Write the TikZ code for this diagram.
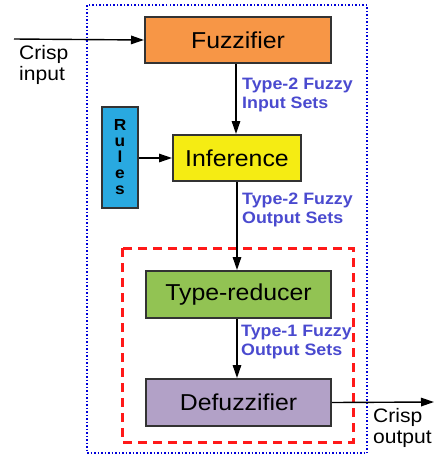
\documentclass[tikz,border=0pt]{standalone}
\usepackage{fontspec}
\setmainfont{Liberation Sans}[FakeStretch=1.08]
\usetikzlibrary{arrows.meta}
\definecolor{fzorange}{HTML}{F79646}
\definecolor{fzyellow}{HTML}{F5EC13}
\definecolor{fzblue}{HTML}{29A9E0}
\definecolor{fzgreen}{HTML}{92C353}
\definecolor{fzpurple}{HTML}{B2A1C7}
\definecolor{lblblue}{HTML}{4A4ACF}
\begin{document}
\begin{tikzpicture}[x=1pt,y=-1pt,
  blk/.style={draw=black!80,line width=2pt,inner sep=0pt,anchor=north west},
  bigtxt/.style={font=\fontsize{23}{26}\selectfont},
  lbl/.style={font=\fontsize{16.5}{18.5}\selectfont\bfseries,text=lblblue,align=left,anchor=north west,inner sep=0pt},
  crisp/.style={font=\fontsize{19.5}{21}\selectfont,align=left,anchor=north west,inner sep=0pt},
  arr/.style={-{Triangle[length=13pt,width=8.5pt]},line width=1.4pt}]
\useasboundingbox (0,0) rectangle (434,459);
% outer dotted box
\draw[blue!85!black,dotted,line width=1.5pt] (87,5) rectangle (367,453);
% red dashed box
\draw[red!90!white,dash pattern=on 9pt off 6pt,line width=3pt] (122,248) rectangle (353,442);
% blocks
\node[blk,fill=fzorange,minimum width=186pt,minimum height=46pt,bigtxt] (fuz) at (144,16) {Fuzzifier};
\node[blk,fill=fzyellow,minimum width=128pt,minimum height=46pt,bigtxt] (inf) at (172,134) {Inference};
\node[blk,fill=fzblue,minimum width=36pt,minimum height=101pt,font=\fontsize{16}{16}\selectfont\bfseries,align=center] (rul) at (101,106) {R\\u\\l\\e\\s};
\node[blk,fill=fzgreen,minimum width=185pt,minimum height=47pt,bigtxt] (tr) at (145,270) {Type-reducer};
\node[blk,fill=fzpurple,minimum width=185pt,minimum height=47pt,bigtxt] (def) at (145,378) {Defuzzifier};
% coordinates
\coordinate (cin) at (14,39);
\coordinate (cout) at (434,402);
% connectors
\draw[arr] (cin) -- (fuz.west);
\draw[arr] (fuz.south -| 236,0) -- (inf.north -| 236,0);
\draw[arr] (rul.east |- inf.west) -- (inf.west);
\draw[arr] (inf.south -| 237,0) -- (tr.north -| 237,0);
\draw[arr] (tr.south -| 237,0) -- (def.north -| 237,0);
\draw[arr] (def.east) -- (cout);
% labels
\node[crisp] (lin) at (19,45) {Crisp\\input};
\node[crisp] (lout) at (373,408) {Crisp\\output};
\node[lbl] (l1) at (242,78) {Type-2 Fuzzy\\Input Sets};
\node[lbl] (l2) at (242,193) {Type-2 Fuzzy\\Output Sets};
\node[lbl] (l3) at (241,325) {Type-1 Fuzzy\\Output Sets};
\end{tikzpicture}
\end{document}
